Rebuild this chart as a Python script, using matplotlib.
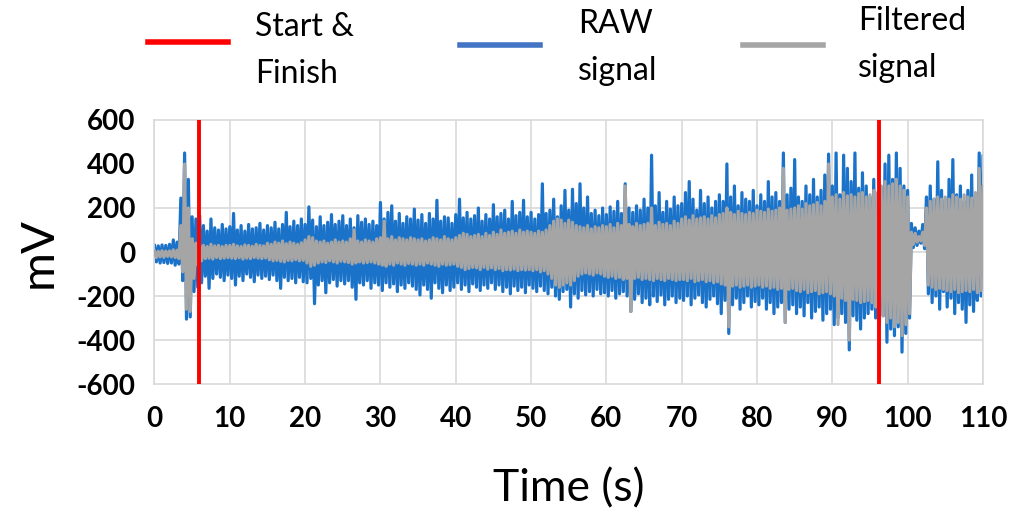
import numpy as np
import matplotlib
matplotlib.use("Agg")
import matplotlib.pyplot as plt
from matplotlib.lines import Line2D

plt.rcParams['font.family'] = ['Lato', 'DejaVu Sans']
plt.rcParams['axes.unicode_minus'] = False

# peak samples every 0.5 s (0 .. 110 s), in mV
# upper peaks sit on the half-second, lower peaks a quarter second later
raw_hi = [
    30, 28, 32, 30, 35, 55, 45, 245, 450, 330,
    160, 150, 165, 120, 95, 150, 110, 100, 125, 105,
    115, 175, 100, 120, 95, 125, 105, 110, 130, 100,
    120, 110, 135, 105, 125, 180, 115, 140, 120, 150,
    125, 205, 145, 115, 160, 120, 135, 170, 125, 140,
    165, 120, 150, 110, 165, 135, 150, 125, 140, 120,
    225, 150, 180, 210, 140, 175, 130, 160, 150, 195,
    145, 170, 130, 175, 150, 235, 140, 160, 155, 130,
    170, 240, 155, 180, 150, 165, 200, 140, 170, 150,
    215, 160, 175, 190, 150, 230, 165, 180, 235, 160,
    180, 150, 170, 310, 175, 190, 240, 160, 210, 280,
    190, 285, 220, 310, 200, 250, 175, 190, 165, 200,
    170, 205, 185, 230, 175, 310, 200, 180, 210, 190,
    240, 200, 440, 210, 270, 180, 230, 195, 250, 210,
    220, 270, 320, 240, 190, 280, 220, 250, 200, 230,
    260, 230, 400, 250, 300, 210, 270, 240, 230, 280,
    210, 260, 230, 320, 250, 270, 230, 450, 260, 290,
    420, 250, 230, 300, 260, 330, 250, 280, 350, 445,
    300, 450, 260, 440, 380, 320, 450, 290, 360, 300,
    250, 330, 230, 290, 400, 440, 330, 450, 380, 300,
    280, 130, 110, 95, 125, 250, 300, 240, 410, 280,
    240, 330, 420, 260, 300, 230, 280, 350, 240, 450,
    440,
]
raw_lo = [
    -45, -50, -48, -52, -50, -60, -55, -130, -305, -295,
    -180, -160, -140, -110, -165, -120, -100, -115, -130, -105,
    -120, -150, -110, -130, -100, -115, -135, -105, -120, -110,
    -125, -105, -130, -165, -115, -130, -120, -140, -115, -135,
    -140, -120, -235, -150, -130, -185, -140, -125, -155, -130,
    -145, -130, -160, -215, -140, -150, -130, -165, -140, -150,
    -175, -140, -160, -145, -180, -150, -165, -140, -155, -170,
    -195, -150, -170, -210, -140, -165, -185, -150, -175, -160,
    -140, -170, -150, -180, -145, -160, -175, -150, -165, -140,
    -170, -150, -180, -160, -190, -155, -175, -160, -185, -150,
    -165, -180, -155, -175, -190, -160, -200, -215, -180, -170,
    -250, -190, -210, -175, -195, -180, -200, -170, -190, -185,
    -200, -175, -210, -190, -180, -200, -270, -215, -190, -230,
    -210, -240, -200, -225, -195, -240, -215, -200, -230, -210,
    -220, -200, -240, -210, -195, -230, -250, -215, -200, -235,
    -280, -220, -370, -240, -210, -260, -230, -200, -250, -225,
    -240, -210, -260, -230, -280, -250, -230, -320, -260, -240,
    -280, -250, -290, -230, -300, -270, -250, -310, -280, -260,
    -330, -300, -280, -320, -445, -290, -310, -350, -300, -280,
    -260, -300, -330, -290, -410, -350, -380, -340, -455, -370,
    -300, 20, 30, 40, 15, -190, -230, -200, -260, -180,
    -250, -210, -280, -230, -260, -320, -240, -270, -220, -200,
    -210,
]
filt_hi = [
    5, 3, 6, 4, 5, 10, 8, 120, 400, 200,
    60, 40, 35, 30, 25, 35, 28, 30, 25, 30,
    30, 35, 28, 25, 32, 30, 26, 35, 30, 28,
    40, 35, 45, 40, 50, 38, 45, 40, 35, 42,
    55, 70, 65, 50, 45, 50, 40, 45, 55, 45,
    50, 45, 60, 100, 50, 45, 55, 50, 45, 60,
    65, 140, 60, 70, 55, 65, 60, 55, 65, 60,
    55, 60, 50, 55, 65, 60, 55, 70, 60, 55,
    65, 75, 85, 80, 70, 75, 80, 70, 85, 75,
    90, 80, 100, 85, 90, 95, 85, 100, 90, 95,
    90, 85, 95, 90, 100, 120, 140, 150, 145, 130,
    145, 135, 120, 115, 110, 120, 105, 115, 110, 120,
    115, 125, 110, 130, 120, 300, 125, 115, 130, 120,
    125, 130, 200, 120, 135, 125, 130, 120, 140, 130,
    150, 160, 145, 165, 150, 155, 160, 150, 165, 155,
    170, 175, 200, 180, 170, 185, 175, 170, 180, 175,
    190, 185, 180, 195, 185, 190, 200, 380, 190, 195,
    200, 210, 195, 220, 210, 215, 225, 210, 230, 400,
    250, 260, 240, 270, 255, 260, 250, 265, 270, 250,
    260, 280, 270, 300, 320, 300, 310, 330, 300, 280,
    250, 90, 85, 70, 90, 200, 230, 240, 250, 240,
    250, 240, 260, 250, 240, 260, 250, 245, 270, 380,
    300,
]
filt_lo = [
    -25, -22, -24, -20, -22, -25, -30, -90, -260, -270,
    -120, -60, -40, -30, -28, -32, -25, -30, -28, -26,
    -28, -30, -26, -32, -28, -30, -25, -28, -30, -27,
    -35, -40, -38, -42, -45, -38, -40, -35, -40, -38,
    -50, -65, -60, -50, -45, -48, -40, -45, -50, -42,
    -45, -48, -55, -50, -45, -50, -48, -45, -50, -55,
    -60, -65, -55, -60, -50, -55, -60, -52, -55, -60,
    -55, -60, -50, -55, -60, -65, -55, -60, -58, -55,
    -65, -70, -80, -75, -70, -72, -80, -70, -78, -72,
    -80, -75, -85, -80, -82, -78, -85, -80, -82, -80,
    -85, -80, -90, -85, -100, -120, -150, -160, -150, -140,
    -150, -130, -110, -100, -95, -100, -105, -95, -100, -110,
    -115, -110, -120, -115, -125, -120, -270, -120, -115, -125,
    -120, -125, -130, -120, -125, -130, -120, -125, -130, -125,
    -125, -130, -120, -135, -130, -125, -135, -130, -140, -135,
    -145, -150, -340, -155, -150, -160, -155, -150, -160, -155,
    -150, -160, -155, -165, -160, -170, -165, -320, -170, -165,
    -175, -180, -170, -185, -180, -175, -190, -185, -180, -190,
    -200, -330, -210, -220, -400, -215, -220, -230, -225, -220,
    -230, -250, -270, -290, -320, -300, -340, -320, -380, -330,
    -280, 35, 45, 50, 30, -150, -160, -170, -165, -170,
    -175, -180, -170, -185, -180, -175, -180, -170, -185, -175,
    -170,
]

start_finish = [5.9, 96.2]  # s
x_ticks = list(range(0, 111, 10))
y_ticks = [-600, -400, -200, 0, 200, 400, 600]
h_grid = [-400, -200, 0, 200]

c_raw = '#1b72c9'
c_filt = '#a5a5a5'
c_red = '#ff0000'
c_grid = '#d9d9d9'


def zigzag(hi, lo, step=0.5):
    t = np.arange(len(hi)) * step
    tt = np.column_stack([t, t + step / 2]).ravel()
    vv = np.column_stack([hi, lo]).ravel()
    return tt, vv


fig = plt.figure(figsize=(10.09, 5.19), dpi=100)
ax = fig.add_axes([0.1531, 0.2601, 0.8211, 0.5087])

for x in x_ticks:
    ax.axvline(x, color=c_grid, lw=1.2, zorder=0)
for y in h_grid:
    ax.axhline(y, color=c_grid, lw=1.2, zorder=0)

t_raw, v_raw = zigzag(raw_hi, raw_lo)
t_flt, v_flt = zigzag(filt_hi, filt_lo)
ax.plot(t_raw, v_raw, color=c_raw, lw=2.3, zorder=2)
ax.plot(t_flt, v_flt, color=c_filt, lw=2.3, zorder=3)
for x in start_finish:
    ax.axvline(x, color=c_red, lw=2.8, zorder=4)

ax.set_xlim(0, 110)
ax.set_ylim(-600, 600)
ax.set_xticks(x_ticks)
ax.set_yticks(y_ticks)
ax.tick_params(length=0)
ax.tick_params(axis='x', labelsize=20, pad=16)
ax.tick_params(axis='y', labelsize=20, pad=14)
for lab in ax.get_xticklabels() + ax.get_yticklabels():
    lab.set_fontweight('bold')
for sp in ax.spines.values():
    sp.set_color(c_grid)
    sp.set_linewidth(1.2)

ax.set_xlabel('Time (s)', fontsize=32, labelpad=26)
ax.set_ylabel('mV', fontsize=34, labelpad=12)

# legend drawn by hand across the top
legend_items = [
    (c_red, 'Start &\nFinish', 0.147, 0.226, 0.253, 0.919, 0.903),
    ('#4474c4', 'RAW\nsignal', 0.456, 0.535, 0.573, 0.913, 0.908),
    (c_filt, 'Filtered\nsignal', 0.736, 0.816, 0.850, 0.913, 0.914),
]
for col, txt, x0, x1, xt, yl, yt in legend_items:
    fig.add_artist(Line2D([x0, x1], [yl, yl], color=col, lw=4,
                          transform=fig.transFigure))
    fig.text(xt, yt, txt, fontsize=23, va='center', ha='left',
             linespacing=1.7)

fig.savefig('out.png', dpi=100)
